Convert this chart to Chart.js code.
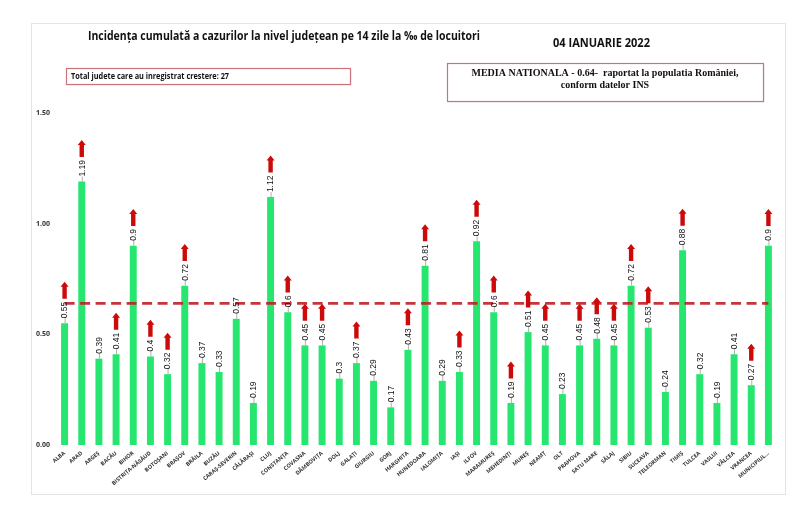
<!DOCTYPE html>
<html>
<head>
<meta charset="utf-8">
<script src="https://cdn.jsdelivr.net/npm/chart.js@4.4.1/dist/chart.umd.min.js"></script>
<style>
  html, body { margin: 0; padding: 0; background: #fff; }
  #wrap { width: 800px; height: 512px; }
</style>
</head>
<body>
<div id="wrap"><canvas id="myChart" width="800" height="512"></canvas></div>
<script>
// date
var judete = ['ALBA', 'ARAD', 'ARGEȘ', 'BACĂU', 'BIHOR', 'BISTRIȚA-NĂSĂUD', 'BOTOȘANI', 'BRAȘOV',
  'BRĂILA', 'BUZĂU', 'CARAȘ-SEVERIN', 'CĂLĂRAȘI', 'CLUJ', 'CONSTANȚA', 'COVASNA', 'DÂMBOVIȚA',
  'DOLJ', 'GALAȚI', 'GIURGIU', 'GORJ', 'HARGHITA', 'HUNEDOARA', 'IALOMIȚA', 'IAȘI', 'ILFOV',
  'MARAMUREȘ', 'MEHEDINȚI', 'MUREȘ', 'NEAMȚ', 'OLT', 'PRAHOVA', 'SATU MARE', 'SĂLAJ', 'SIBIU',
  'SUCEAVA', 'TELEORMAN', 'TIMIȘ', 'TULCEA', 'VASLUI', 'VÂLCEA', 'VRANCEA', 'MUNICIPIUL...'];
var incidenta = [0.55, 1.19, 0.39, 0.41, 0.9, 0.4, 0.32, 0.72, 0.37, 0.33, 0.57, 0.19, 1.12, 0.6,
  0.45, 0.45, 0.3, 0.37, 0.29, 0.17, 0.43, 0.81, 0.29, 0.33, 0.92, 0.6, 0.19, 0.51, 0.45, 0.23,
  0.45, 0.48, 0.45, 0.72, 0.53, 0.24, 0.88, 0.32, 0.19, 0.41, 0.27, 0.9];
// 1 = judet cu crestere (sageata rosie)
var crestere = [1, 1, 0, 1, 1, 1, 1, 1, 0, 0, 0, 0, 1, 1, 1, 1, 0, 1, 0, 0, 1, 1, 0, 1, 1, 1, 1,
  1, 1, 0, 1, 1, 1, 1, 1, 0, 1, 0, 0, 0, 1, 1];
var mediaNationala = 0.64;
var yTicks = [0, 0.5, 1, 1.5];

var titlu = 'Incidența cumulată a cazurilor la nivel județean pe 14 zile la ‰ de locuitori';
var data = '04 IANUARIE 2022';
var totalText = 'Total judete care au inregistrat crestere: 27';
var mediaText1 = 'MEDIA NATIONALA - 0.64-  raportat la populatia României,';
var mediaText2 = 'conform datelor INS';

// sageata in sus
function drawArrow(ctx, x, yBottom, h) {
  ctx.fillStyle = '#cc0a0a';
  ctx.beginPath();
  ctx.moveTo(x - 2.2, yBottom);
  ctx.lineTo(x + 2.2, yBottom);
  ctx.lineTo(x + 2.2, yBottom - h + 5);
  ctx.lineTo(x + 4, yBottom - h + 5);
  ctx.lineTo(x, yBottom - h);
  ctx.lineTo(x - 4, yBottom - h + 5);
  ctx.lineTo(x - 2.2, yBottom - h + 5);
  ctx.closePath();
  ctx.fill();
}

function box(ctx, x, y, w, h) {
  ctx.save();
  ctx.fillStyle = 'rgba(0,0,0,0.07)';
  ctx.fillRect(x + 1.5, y + 1.5, w, h);
  ctx.fillStyle = '#fff';
  ctx.fillRect(x, y, w, h);
  ctx.strokeStyle = '#c9747c';
  ctx.lineWidth = 1.2;
  ctx.strokeRect(x + 0.5, y + 0.5, w, h);
  ctx.restore();
}

const decor = {
  id: 'decor',
  beforeDraw(chart) {
    const ctx = chart.ctx;
    ctx.save();
    ctx.fillStyle = '#fff';
    ctx.fillRect(0, 0, chart.width, chart.height);
    ctx.strokeStyle = '#e4e4e4';
    ctx.lineWidth = 1;
    ctx.strokeRect(31.5, 23.5, 754, 471);
    ctx.restore();
  },
  afterDatasetsDraw(chart) {
    const ctx = chart.ctx;
    const xs = chart.scales.x;
    const ys = chart.scales.y;
    ctx.save();
    // linia mediei nationale
    const yM = ys.getPixelForValue(mediaNationala);
    ctx.strokeStyle = 'rgba(192,30,40,0.9)';
    ctx.lineWidth = 2.6;
    ctx.setLineDash([10, 5.5]);
    ctx.beginPath();
    ctx.moveTo(xs.getPixelForValue(0), yM);
    ctx.lineTo(xs.getPixelForValue(judete.length - 1), yM);
    ctx.stroke();
    ctx.setLineDash([]);

    ctx.font = '8.5px "Liberation Sans", Arial, sans-serif';
    for (let i = 0; i < incidenta.length; i++) {
      const x = xs.getPixelForValue(i);
      const yTop = ys.getPixelForValue(incidenta[i]);
      const txt = String(incidenta[i]);
      const tw = ctx.measureText(txt).width;
      // linie de legatura
      ctx.strokeStyle = '#9a9a9a';
      ctx.lineWidth = 0.8;
      ctx.beginPath();
      ctx.moveTo(x + 0.5, yTop);
      ctx.lineTo(x + 0.5, yTop - 5);
      ctx.stroke();
      // eticheta verticala
      ctx.save();
      ctx.translate(x, yTop - 5);
      ctx.rotate(-Math.PI / 2);
      ctx.fillStyle = '#111';
      ctx.textAlign = 'left';
      ctx.textBaseline = 'middle';
      ctx.fillText(txt, 0, 0.5);
      ctx.restore();
      if (crestere[i]) {
        drawArrow(ctx, x, yTop - 5 - tw - 3, 17);
      }
    }
    ctx.restore();
  },
  afterDraw(chart) {
    const ctx = chart.ctx;
    ctx.save();
    ctx.fillStyle = '#111';
    ctx.textBaseline = 'middle';
    ctx.textAlign = 'left';
    ctx.font = 'bold 13px "Open Sans", sans-serif';
    ctx.fillText(titlu, 88, 36, 392);
    ctx.font = 'bold 13px "Open Sans", sans-serif';
    ctx.fillText(data, 553, 43, 97);

    box(ctx, 66, 68, 284, 16);
    ctx.fillStyle = '#111';
    ctx.font = 'bold 8.5px "Open Sans", sans-serif';
    ctx.fillText(totalText, 71, 76.5, 158);

    box(ctx, 447, 63, 316, 38);
    ctx.fillStyle = '#111';
    ctx.textAlign = 'center';
    ctx.font = 'bold 10px "Liberation Serif", serif';
    ctx.fillText(mediaText1, 605, 73, 272);
    ctx.fillText(mediaText2, 605, 85);
    ctx.restore();
  }
};

const ctx = document.getElementById('myChart');
const myChartBar = new Chart(ctx, {
  type: 'bar',
  data: {
    labels: judete,
    datasets: [{
      data: incidenta,
      backgroundColor: '#26e670',
      borderWidth: 0,
      barPercentage: 0.9,
      categoryPercentage: 0.45
    }]
  },
  options: {
    responsive: false,
    animation: false,
    devicePixelRatio: 1,
    layout: { padding: { top: 113, left: 31, right: 23, bottom: 10 } },
    plugins: {
      legend: { display: false },
      tooltip: { enabled: false }
    },
    scales: {
      x: {
        grid: { display: false, drawTicks: false },
        border: { display: false },
        afterFit: (s) => { s.height = 57; },
        ticks: {
          autoSkip: false,
          minRotation: 40,
          maxRotation: 40,
          padding: 5,
          color: '#333',
          font: { size: 5.5, weight: 'bold', family: '"Open Sans", sans-serif' }
        }
      },
      y: {
        min: 0,
        max: 1.5,
        grid: { display: false, drawTicks: false },
        border: { display: false },
        afterFit: (s) => { s.width = 25; },
        afterBuildTicks: (s) => { s.ticks = yTicks.map(v => ({ value: v })); },
        ticks: {
          padding: 6,
          color: '#333',
          font: { size: 7, weight: 'bold', family: '"Open Sans", sans-serif' },
          callback: (v) => Number(v).toFixed(2)
        }
      }
    }
  },
  plugins: [decor]
});
</script>
</body>
</html>
